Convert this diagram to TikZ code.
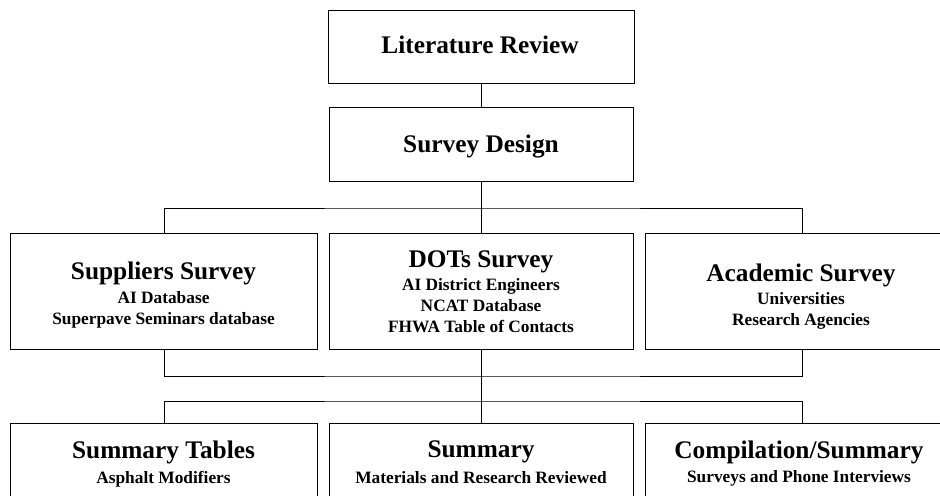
\documentclass[tikz,border=0pt]{standalone}
\usepackage{fontspec}
\setmainfont{Liberation Serif}
\begin{document}
\begin{tikzpicture}[x=0.75pt,y=-0.75pt,
  bx/.style 2 args={draw, line width=1pt, inner sep=0pt, anchor=north west,
    minimum width=#1*0.75pt, minimum height=#2*0.75pt},
  ttl/.style={anchor=base, inner sep=0pt, font=\fontsize{19}{23}\selectfont\bfseries},
  sub/.style={anchor=base, inner sep=0pt, font=\fontsize{13}{15}\selectfont\bfseries},
  ln/.style={line width=0.75pt}]
\useasboundingbox (0,0) rectangle (940,496);
\clip (0,0) rectangle (940,496);
% boxes
\node[bx={306}{73}]  (lit) at (328,10) {};
\node[bx={304}{74}]  (des) at (329,107) {};
\node[bx={307}{116}] (sup) at (10,233) {};
\node[bx={304}{116}] (dot) at (329,233) {};
\node[bx={313}{116}] (aca) at (645,233) {};
\node[bx={307}{90}]  (tab) at (10,423) {};
\node[bx={304}{90}]  (sum) at (329,423) {};
\node[bx={313}{90}]  (cmp) at (645,423) {};
% texts
\node[ttl] (tlit) at (480,53) {Literature Review};
\node[ttl] (tdes) at (481,152) {Survey Design};
\node[ttl] (tsup) at (163.5,279) {Suppliers Survey};
\node[sub] (tsup1) at (163.5,303) {AI Database};
\node[sub] (tsup2) at (163.5,324) {Superpave Seminars database};
\node[ttl] (tdot) at (481,267) {DOTs Survey};
\node[sub] (tdot1) at (481,290) {AI District Engineers};
\node[sub] (tdot2) at (481,311) {NCAT Database};
\node[sub] (tdot3) at (481,332) {FHWA Table of Contacts};
\node[ttl] (taca) at (801,281) {Academic Survey};
\node[sub] (taca1) at (801,304) {Universities};
\node[sub] (taca2) at (801,325) {Research Agencies};
\node[ttl] (ttab) at (163.5,458) {Summary Tables};
\node[sub] (ttab1) at (163.5,483) {Asphalt Modifiers};
\node[ttl] (tsum) at (481,457) {Summary};
\node[sub] (tsum1) at (481,483) {Materials and Research Reviewed};
\node[ttl] (tcmp) at (799,458) {Compilation/Summary};
\node[sub] (tcmp1) at (799,482) {Surveys and Phone Interviews};
% connectors
\coordinate (j1) at (des.south |- 0,208);
\coordinate (j2) at (dot.south |- 0,376);
\coordinate (j3) at (dot.south |- 0,401);
\draw[ln] (lit.south) -- (lit.south |- des.north);
\draw[ln] (des.south) -- (j1);
\draw[ln] (sup.north) |- (j1) -| (aca.north);
\draw[ln] (j1) -- (dot.north);
\draw[ln] (sup.south) |- (j2) -| (aca.south);
\draw[ln] (dot.south) -- (sum.north);
\draw[ln] (tab.north) |- (j3) -| (cmp.north);
\end{tikzpicture}
\end{document}
